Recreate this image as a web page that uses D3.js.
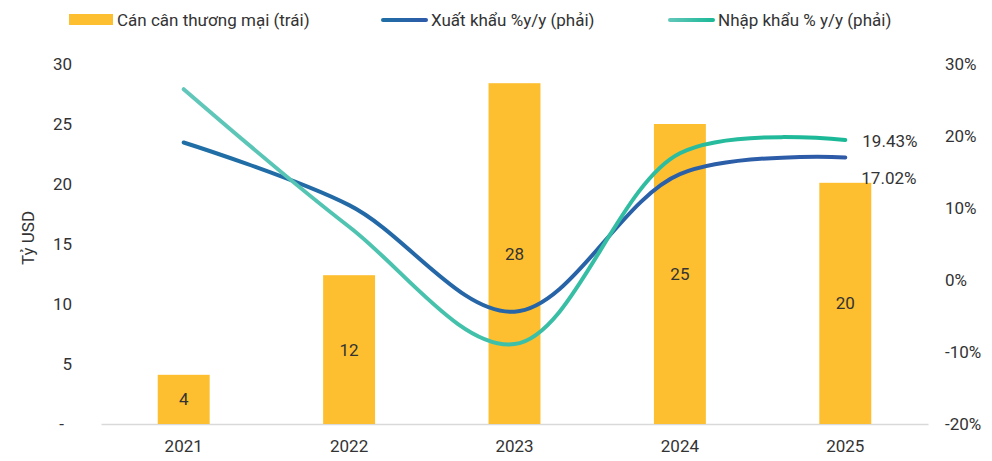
<!DOCTYPE html>
<html>
<head>
<meta charset="utf-8">
<script src="https://cdn.jsdelivr.net/npm/d3@7"></script>
<style>
  body { margin: 0; background: #fff; }
  svg text { font-family: Roboto, "Noto Sans", sans-serif; fill: #333; }
</style>
</head>
<body>
<div class="chart"></div>
<script>
const years = ['2021', '2022', '2023', '2024', '2025']
const balance = [4.1, 12.4, 28.4, 25.0, 20.1]
const exportsYoY = [19.1, 10.4, -4.4, 14.7, 17.02]
const importsYoY = [26.5, 7.4, -8.9, 17.6, 19.43]
const leftTicks = [0, 5, 10, 15, 20, 25, 30]
const rightTicks = [-20, -10, 0, 10, 20, 30]

const width = 992, height = 461
const margin = {top: 64, right: 64, bottom: 37, left: 101}
const fs = 17

const svg = d3.select('.chart').append('svg')
.attr('width', width)
.attr('height', height)

const defs = svg.append('defs')
const grad = (id, c1, c2) => {
    const g = defs.append('linearGradient').attr('id', id)
    .attr('x1', '0%').attr('x2', '100%')
    g.append('stop').attr('offset', '0%').attr('stop-color', c1)
    g.append('stop').attr('offset', '100%').attr('stop-color', c2)
}
grad('gExp', '#1f6fa6', '#2e5aa8')
grad('gImp', '#62c7ba', '#19b896')

const x = d3.scaleBand()
.domain(years)
.range([margin.left, width - margin.right])
.paddingInner(0.686)
.paddingOuter(0.343)

const yL = d3.scaleLinear().domain([0, 30]).range([height - margin.bottom, margin.top])
const yR = d3.scaleLinear().domain([-20, 30]).range([height - margin.bottom, margin.top])

const cx = d => x(d) + x.bandwidth() / 2

// left axis
const axL = svg.append('g')
.attr('transform', `translate(${margin.left - 29},0)`)
.call(d3.axisLeft(yL).tickValues(leftTicks).tickSize(0).tickPadding(0)
    .tickFormat(d => d === 0 ? '-' : d))
axL.select('.domain').remove()
axL.selectAll('text').attr('font-size', fs).attr('fill', '#333')
.attr('dx', d => d === 0 ? -8 : 0)

// right axis
const axR = svg.append('g')
.attr('transform', `translate(${width - margin.right + 17},0)`)
.call(d3.axisRight(yR).tickValues(rightTicks).tickSize(0).tickPadding(0)
    .tickFormat(d => d + '%'))
axR.select('.domain').remove()
axR.selectAll('text').attr('font-size', fs).attr('fill', '#333')

// x axis
const axX = svg.append('g')
.attr('transform', `translate(0,${height - margin.bottom})`)
.call(d3.axisBottom(x).tickSize(0).tickPadding(16))
axX.select('.domain').attr('stroke', '#d9d9d9').attr('stroke-width', 1.5)
axX.selectAll('text').attr('font-size', fs).attr('fill', '#333')

svg.append('text')
.attr('transform', `translate(34,${(margin.top + height - margin.bottom) / 2 - 6}) rotate(-90)`)
.attr('text-anchor', 'middle')
.attr('font-size', fs)
.text('Tỷ USD')

// bars
svg.append('g')
.selectAll('rect')
.data(balance)
.enter()
.append('rect')
.attr('x', (d, i) => x(years[i]))
.attr('width', x.bandwidth())
.attr('y', d => yL(d))
.attr('height', d => yL(0) - yL(d))
.attr('fill', '#fdbf2f')

svg.append('g')
.selectAll('text')
.data(balance)
.enter()
.append('text')
.attr('x', (d, i) => cx(years[i]))
.attr('y', d => (yL(d) + yL(0)) / 2)
.attr('dy', '0.35em')
.attr('text-anchor', 'middle')
.attr('font-size', fs)
.text(d => d3.format('.0f')(d))

// lines
const line = d3.line()
.x((d, i) => cx(years[i]))
.y(d => yR(d))
.curve(d3.curveCatmullRom.alpha(0.5))

svg.append('path')
.datum(exportsYoY)
.attr('d', line)
.attr('fill', 'none')
.attr('stroke', 'url(#gExp)')
.attr('stroke-width', 4)
.attr('stroke-linecap', 'round')

svg.append('path')
.datum(importsYoY)
.attr('d', line)
.attr('fill', 'none')
.attr('stroke', 'url(#gImp)')
.attr('stroke-width', 4)
.attr('stroke-linecap', 'round')

const last = years.length - 1
svg.append('text')
.attr('x', cx(years[last]) + 17)
.attr('y', yR(importsYoY[last]) + 1)
.attr('dy', '0.35em')
.attr('font-size', fs)
.text(d3.format('.2f')(importsYoY[last]) + '%')

svg.append('text')
.attr('x', cx(years[last]) + 16)
.attr('y', yR(exportsYoY[last]) + 21)
.attr('dy', '0.35em')
.attr('font-size', fs)
.text(d3.format('.2f')(exportsYoY[last]) + '%')

// legend
const legend = svg.append('g').attr('font-size', fs)
legend.append('rect').attr('x', 69).attr('y', 14).attr('width', 44).attr('height', 11).attr('fill', '#fdbf2f')
legend.append('text').attr('x', 117).attr('y', 20).attr('dy', '0.35em').text('Cán cân thương mại (trái)')

legend.append('rect').attr('x', 381).attr('y', 18).attr('width', 47).attr('height', 4).attr('rx', 2)
.attr('fill', 'url(#gExp)')
legend.append('text').attr('x', 431).attr('y', 20).attr('dy', '0.35em').text('Xuất khẩu %y/y (phải)')

legend.append('rect').attr('x', 668).attr('y', 18).attr('width', 47).attr('height', 4).attr('rx', 2)
.attr('fill', 'url(#gImp)')
legend.append('text').attr('x', 718).attr('y', 20).attr('dy', '0.35em').text('Nhập khẩu % y/y (phải)')
</script>
</body>
</html>
